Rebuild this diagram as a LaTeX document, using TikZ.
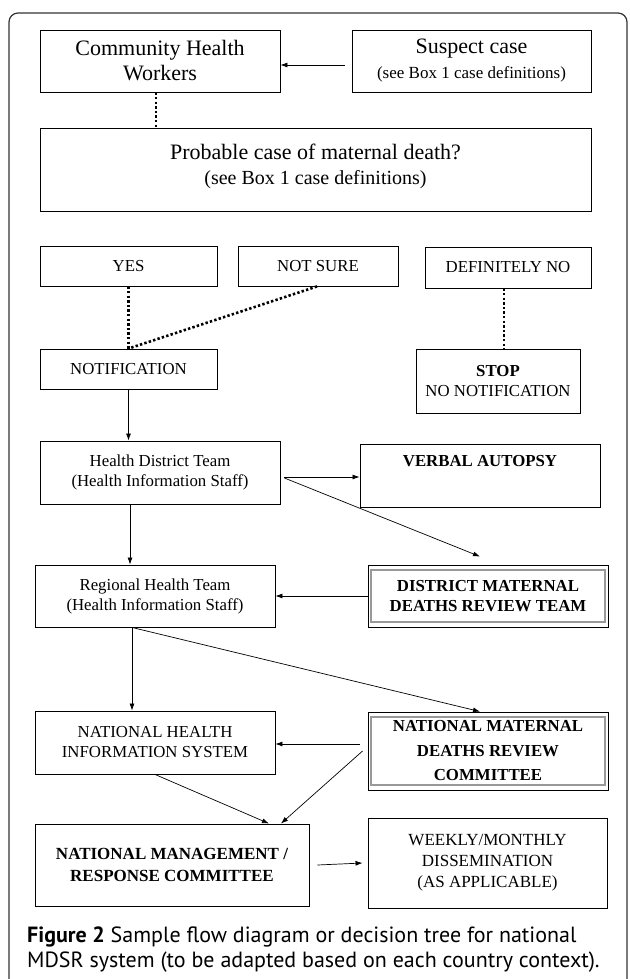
\documentclass[tikz,border=0pt]{standalone}
\usepackage{fontspec}
\setmainfont{Liberation Serif}
\newfontfamily\capfont{PT Sans}
\usetikzlibrary{arrows.meta,calc}
\newcommand\szBig{\fontsize{22}{25}\selectfont}
\newcommand\szMid{\fontsize{16.8}{20}\selectfont}
\newcommand\szNote{\fontsize{17}{23}\selectfont}
\newcommand\szNoteB{\fontsize{20}{27}\selectfont}
\begin{document}
\begin{tikzpicture}[x=1pt,y=-1pt,
  box/.style={draw=black, line width=0.9pt, inner sep=0pt, align=center, font=\szMid},
  arr/.style={-{Latex[length=7pt,width=5pt]}, line width=0.7pt},
  dots/.style={line width=2.6pt, dash pattern=on 2.4pt off 2.2pt},
  inner/.style={draw=black!40, line width=2pt}
]
\useasboundingbox (0,0) rectangle (629,979);
\draw[line width=1.2pt, black!80, rounded corners=9pt] (9,990) -- (9,13) -- (627,13) -- (627,990);

\node[box, minimum width=240pt, minimum height=62pt, font=\szBig] (chw) at (160,61) {Community Health\\Workers};
\node[box, minimum width=239pt, minimum height=62pt, font=\szBig] (susp) at (471.5,61) {Suspect case\\\szNote (see Box 1 case definitions)};
\node[box, minimum width=551pt, minimum height=83pt] (prob) at (315.5,169.5) {};
\node (probtext) at (315.5,166) [align=center, inner sep=0pt, font=\szBig] {Probable case of maternal death?\\\szNoteB (see Box 1 case definitions)};

\node[box, minimum width=177pt, minimum height=40pt] (yes) at (128.5,266) {YES};
\node[box, minimum width=160pt, minimum height=40pt] (notsure) at (318,266) {NOT SURE};
\node[box, minimum width=166pt, minimum height=41pt] (defno) at (508,267.5) {DEFINITELY NO};
\node[box, minimum width=177pt, minimum height=40pt] (notif) at (128.5,369) {NOTIFICATION};
\node[box, minimum width=164pt, minimum height=64pt] (stop) at (498,381) {\textbf{STOP}\\NO NOTIFICATION};

\node[box, minimum width=240pt, minimum height=63pt] (hdt) at (160,472.5) {Health District Team\\(Health Information Staff)};
\node[box, minimum width=240pt, minimum height=63pt] (va) at (480,475.5) {};
\node (vatext) at (480,461) [inner sep=0pt, font=\szMid\bfseries] {VERBAL AUTOPSY};

\node[box, minimum width=240pt, minimum height=62pt] (rht) at (155,596) {Regional Health Team\\(Health Information Staff)};
\node[box, minimum width=240pt, minimum height=62pt, font=\szMid\bfseries] (dmdrt) at (488,596) {DISTRICT MATERNAL\\DEATHS REVIEW TEAM};
\draw[inner] ([shift={(3pt,-5pt)}]dmdrt.north west) rectangle ([shift={(-3pt,5pt)}]dmdrt.south east);

\node[box, minimum width=240pt, minimum height=63pt] (nhis) at (155,742.5) {NATIONAL HEALTH\\INFORMATION SYSTEM};
\node[box, minimum width=240pt, minimum height=78pt, font=\fontsize{16.8}{24.5}\selectfont\bfseries] (nmdrc) at (488,751) {NATIONAL MATERNAL\\DEATHS REVIEW\\COMMITTEE};
\draw[inner] ([shift={(3pt,-5pt)}]nmdrc.north west) rectangle ([shift={(-3pt,5pt)}]nmdrc.south east);

\node[box, minimum width=274pt, minimum height=82pt, font=\fontsize{17}{22}\selectfont\bfseries] (nmrc) at (172,865) {NATIONAL MANAGEMENT /\\RESPONSE COMMITTEE};
\node[box, minimum width=239pt, minimum height=90pt, font=\fontsize{17}{21}\selectfont] (weekly) at (487.5,863) {WEEKLY/MONTHLY\\DISSEMINATION\\(AS APPLICABLE)};

% connectors
\draw[arr] ([xshift=-7pt,yshift=-4pt]susp.west) -- ([yshift=-4pt]chw.east);
\draw[dots] ([xshift=-4pt]chw.south) -- ([xshift=-4pt]chw.south |- prob.north);
\draw[dots] (yes.south) -- (notif.north);
\draw[dots] ([xshift=-1pt]notsure.south) -- (notif.north);
\draw[dots] ([xshift=-4pt]defno.south) -- ([xshift=-4pt]defno.south |- stop.north);
\draw[arr] (notif.south) -- (notif.south |- hdt.north);
\draw[arr] ([xshift=4pt,yshift=-4.5pt]hdt.east) -- ([yshift=-1.5pt]va.west);
\draw[arr] ([xshift=4pt,yshift=-5.5pt]hdt.east) -- ([xshift=-8pt,yshift=8pt]dmdrt.north);
\draw[arr] ([xshift=-30pt]hdt.south) -- ([xshift=-25pt]rht.north);
\draw[arr] (dmdrt.west) -- (rht.east);
\draw[arr] ([xshift=-23pt]rht.south) -- ([xshift=-23pt]nhis.north);
\draw[arr] ([xshift=-23pt]rht.south) -- ([xshift=-8pt]nmdrc.north);
\draw[arr] ([xshift=-8pt,yshift=7pt]nmdrc.west) -- ([yshift=-1.5pt]nhis.east);
\draw[arr] (nhis.south) -- ([xshift=97pt]nmrc.north);
\draw[arr] ([xshift=-5pt]nmdrc.west) -- ([xshift=109pt]nmrc.north);
\draw[arr] ([xshift=8pt]nmrc.east) -- ([xshift=-5pt]weekly.west);

% caption
\node[anchor=base west, inner sep=0pt, font=\capfont\fontsize{22}{25}\selectfont] (cap1) at (27,942) {\textbf{Figure 2} Sample flow diagram or decision tree for national};
\node[anchor=base west, inner sep=0pt, font=\capfont\fontsize{22}{25}\selectfont] (cap2) at (27,967) {MDSR system (to be adapted based on each country context).};
\end{tikzpicture}
\end{document}
